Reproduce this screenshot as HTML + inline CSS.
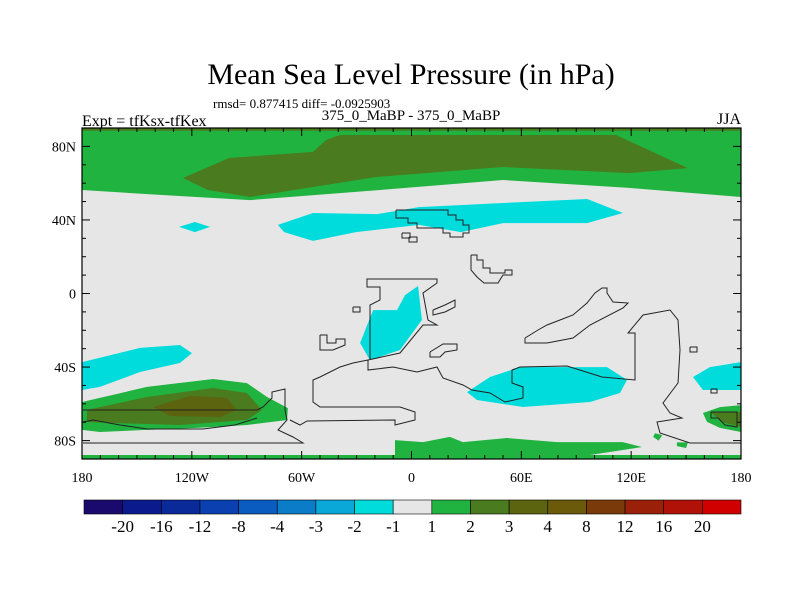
<!DOCTYPE html>
<html><head><meta charset="utf-8"><style>
body{margin:0;background:#fff}
svg{display:block;font-family:"Liberation Serif",serif}
</style></head><body>
<svg id="c" width="800" height="600" viewBox="0 0 800 600">
<rect width="800" height="600" fill="#fff"/>
<text x="411" y="84" font-size="30" text-anchor="middle">Mean Sea Level Pressure (in hPa)</text>
<text x="213" y="108" font-size="13">rmsd= 0.877415 diff= -0.0925903</text>
<text x="82" y="126" font-size="16">Expt = tfKsx-tfKex</text>
<text x="411" y="120" font-size="15" text-anchor="middle">375_0_MaBP - 375_0_MaBP</text>
<text x="741" y="124" font-size="16" text-anchor="end">JJA</text>
<g id="map"></g>
<g id="cb"></g>
</svg>
<script>
const colorLevels=["-20","-16","-12","-8","-4","-3","-2","-1","1","2","3","4","8","12","16","20"];
const colorFills=['#1a0a6e','#0b1a8c','#0a2a9a','#0a40b0','#0a5cc0','#0a7cc8','#0aa8d8','#00dcdc','#e6e6e6','#20b340','#4a7b1e','#5c6410','#6a5a0a','#7a3a0a','#9a200a','#b01208','#d00000'];
const lonTicks=[-180,-120,-60,0,60,120,180];
const lonLabels=["180","120W","60W","0","60E","120E","180"];
const latTicks=[80,40,0,-40,-80];
const latLabels=["80N","40N","0","40S","80S"];
// contour regions: [colorIndex, [[lon,lat],...]]
const regions=[
[9,[[-180,90],[180,90],[180,52.5],[118.8,57.4],[50,61.7],[-17.2,56.3],[-88.2,50.8],[-137.4,53.6],[-180,56.3]]],
[10,[[-180,90],[180,90],[180,88.5],[-180,88.5]]],
[10,[[-124.8,62.8],[-99.7,73.7],[-53.8,77],[-46.7,83.5],[-39,86.2],[111.7,86.2],[151,68.2],[118.8,65.5],[50,68.8],[-18.8,63.4],[-88.2,52.5],[-111.2,56.3]]],
[7,[[-73,37.3],[-53.8,43.8],[-18.8,43.2],[4.1,47],[50,49.2],[95.9,51.4],[115.5,43.8],[95.9,38.3],[50,38.3],[27,33.4],[4.1,37.3],[-30.3,33.4],[-53.8,28.6],[-69.6,33.4]]],
[7,[[-127,36.2],[-118.3,38.9],[-110,36.2],[-118.3,33.4]]],
[7,[[3.6,4.1],[5.7,-14.4],[-6.3,-30.7],[-22.7,-36.2],[-28.1,-26.9],[-21,-9],[-7.9,-9],[-3.5,-0.8]]],
[7,[[30.3,-53.6],[42.9,-45.4],[59.3,-40],[106.8,-40],[117.7,-47],[113.9,-54.1],[97.5,-59],[60.9,-61.7],[35.8,-57.9]]],
[7,[[153.8,-45.4],[163,-40],[180,-37.3],[180,-52.5],[159.2,-52.5]]],
[7,[[-180,-37.3],[-148.3,-29.6],[-126.5,-28],[-119.9,-32.4],[-126.5,-37.8],[-148.3,-42.7],[-170.2,-50.8],[-180,-52.5]]],
[9,[[-180,-59],[-144.5,-50.8],[-108.4,-46.5],[-89.9,-48.7],[-78.9,-56.3],[-67.5,-62.3],[-68,-68.8],[-89.9,-71.5],[-117.2,-73.1],[-144.5,-74.2],[-170.2,-75.3],[-180,-74.2]]],
[10,[[-177.3,-63.3],[-144.5,-56.3],[-108.4,-51.4],[-89.9,-54.1],[-81.7,-63.3],[-89.9,-68.8],[-126.5,-71.5],[-163.1,-70.4],[-177.3,-69.9]]],
[11,[[-141.2,-61.7],[-121,-55.7],[-100.8,-56.8],[-95.3,-63.3],[-104.6,-67.2],[-131.9,-66.6]]],
[9,[[-9,-90],[-9,-79.7],[6.3,-80.8],[21,-78],[28.1,-80.8],[52.2,-78.6],[79.5,-80.8],[115.5,-80.8],[125.9,-83.5],[115.5,-85.1],[97.5,-87.8],[59,-90]]],
[9,[[-180,-90],[180,-90],[180,-87.8],[-180,-87.8]]],
[9,[[159.2,-65],[168.5,-61.8],[180,-60.7],[180,-75.3],[168.5,-73.1],[161.4,-69.8]]],
[10,[[163,-64.4],[180,-64.4],[180,-72.6],[170,-70]]],
[9,[[133,-76],[137,-77],[135,-80],[132,-78]]],
[9,[[145,-81],[151,-81],[150,-84],[145,-83]]]
];
// basemap coastline geometry (plot pixel units)
const coastsPx=[
[[396,210],[448,210],[448,215],[456,215],[456,220],[463,220],[463,225],[469,225],[469,233],[463,233],[463,237],[450,237],[450,233],[443,233],[443,228],[417,228],[417,223],[408,223],[408,218],[396,218],[396,210]],
[[402,233],[410,233],[410,238],[402,238],[402,233]],[[409,237],[417,237],[417,242],[409,242],[409,237]],
[[471,255],[477,255],[477,260],[483,260],[483,268],[490,268],[490,273],[505,273],[505,270],[512,270],[512,275],[503,275],[498,283],[484,283],[477,277],[471,270],[471,255]],
[[370,360],[370,305],[380,300],[380,287],[367,287],[367,279],[437,279],[437,283],[423,293],[428,320],[437,325],[423,325],[400,353],[368,360],[368,370],[393,367],[417,372],[437,367],[443,378],[463,385],[472,390],[490,393],[505,402],[523,398],[523,387],[512,383],[512,370],[520,367],[567,366],[602,377],[635,380],[635,333],[628,333],[643,315],[670,310],[678,320],[680,350],[678,383],[663,403],[670,413],[682,418],[657,422],[660,433],[690,443],[741,443]],
[[368,360],[353,363],[340,367],[320,377],[313,380],[313,402],[320,407],[400,407],[415,412],[415,420],[395,425],[395,420],[307,421],[300,425],[290,420]],
[[353,307],[360,307],[360,312],[353,312],[353,307]],
[[320,335],[327,335],[327,343],[336,343],[336,339],[345,339],[345,345],[333,350],[320,350],[320,335]],
[[433,310],[445,305],[455,300],[455,307],[445,312],[433,315],[433,310]],
[[430,352],[443,344],[457,344],[457,350],[445,352],[440,357],[430,357],[430,352]],
[[525,338],[525,343],[547,343],[573,338],[590,325],[623,308],[628,303],[613,302],[607,293],[607,288],[602,288],[595,293],[587,303],[573,315],[560,320],[547,325],[538,330],[530,335],[525,338]],
[[690,347],[697,347],[697,352],[690,352],[690,347]],[[711,389],[717,389],[717,393],[711,393],[711,389]],
[[83,410],[257,410],[263,407],[272,398],[272,392],[285,389],[285,410],[287,420],[278,430],[293,437],[303,443],[83,443]],
[[83,422],[93,420],[120,425],[147,429],[203,429],[235,425],[257,418]],
[[711,412],[737,412],[737,427],[725,425],[718,418],[711,418],[711,412]]
];
const L=82,R=741,T=128,B=459;
const xs=lon=>L+(lon+180)*(R-L)/360;
const ys=lat=>T+(90-lat)*(B-T)/180;
const NS="http://www.w3.org/2000/svg";
const map=document.getElementById('map');
function mk(tag,attrs,parent){const e=document.createElementNS(NS,tag);for(const k in attrs)e.setAttribute(k,attrs[k]);parent.appendChild(e);return e;}
const cp=mk('clipPath',{id:'clip'},map);mk('rect',{x:L,y:T,width:R-L,height:B-T},cp);
const bg=mk('rect',{x:L,y:T,width:R-L,height:B-T,fill:'#e6e6e6'},map);


const g=mk('g',{'clip-path':'url(#clip)'},map);
regions.forEach((r,i)=>{
 const p=mk('polygon',{points:r[1].map(q=>xs(q[0]).toFixed(1)+','+ys(q[1]).toFixed(1)).join(' '),fill:colorFills[r[0]]},g);
 
 
});
coastsPx.forEach((c,i)=>{
 const p=mk('polyline',{points:c.map(q=>q[0]+','+q[1]).join(' '),fill:'none',stroke:'#222','stroke-width':1},g);
 
 
});
const fr=mk('rect',{x:L,y:T,width:R-L,height:B-T,fill:'none',stroke:'#000','stroke-width':1.2},map);


for(let lon=-180;lon<=180;lon+=10){const X=xs(lon),len=lon%60===0?8:4;
 mk('line',{x1:X,y1:B,x2:X,y2:B-len,stroke:'#000'},map);mk('line',{x1:X,y1:T,x2:X,y2:T+len,stroke:'#000'},map);}
for(let lat=-90;lat<=90;lat+=10){const Y=ys(lat),len=(lat-80)%40===0?8:4;
 mk('line',{x1:L,y1:Y,x2:L+len,y2:Y,stroke:'#000'},map);mk('line',{x1:R,y1:Y,x2:R-len,y2:Y,stroke:'#000'},map);}
lonTicks.forEach((v,i)=>{const t=mk('text',{x:xs(v),y:482,'font-size':14,'text-anchor':'middle'},map);t.textContent=lonLabels[i];
 
 });
latTicks.forEach((v,i)=>{const t=mk('text',{x:L-6,y:ys(v)+5,'font-size':14,'text-anchor':'end'},map);t.textContent=latLabels[i];
 
 });
const cb=document.getElementById('cb');const cx0=84,cx1=741,cy=500,ch=14,bw=(cx1-cx0)/colorFills.length;
colorFills.forEach((c,i)=>{const r=mk('rect',{x:cx0+i*bw,y:cy,width:bw,height:ch,fill:c,stroke:'#000','stroke-width':0.6},cb);
 
 });
colorLevels.forEach((v,i)=>{const t=mk('text',{x:cx0+(i+1)*bw,y:532,'font-size':17,'text-anchor':'middle'},cb);t.textContent=v;
 
 });
</script>
</body></html>
